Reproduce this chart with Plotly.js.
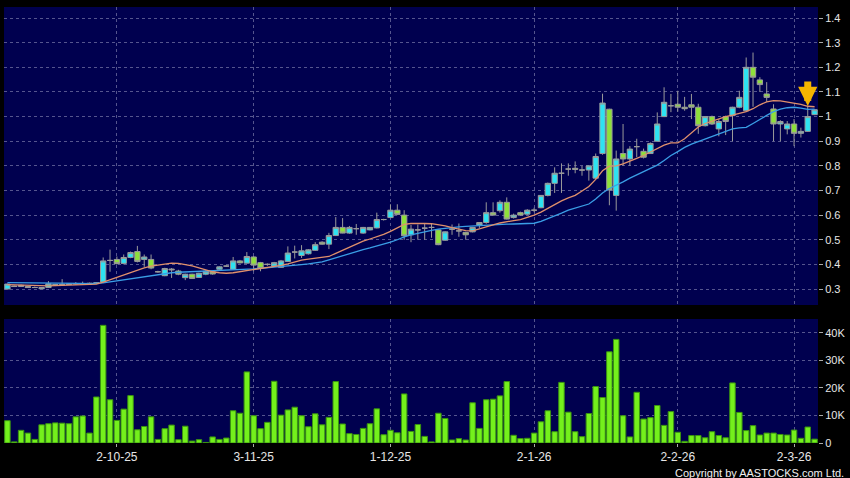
<!DOCTYPE html>
<html>
<head>
<meta charset="utf-8">
<script src="https://cdn.plot.ly/plotly-3.0.1.min.js"></script>
<style>html,body{margin:0;padding:0;background:#000;}#chart{width:850px;height:478px;}</style>
</head>
<body>
<div id="chart"></div>
<script>
const dates = ['2025-09-09','2025-09-10','2025-09-11','2025-09-12','2025-09-15','2025-09-16','2025-09-17','2025-09-18','2025-09-19','2025-09-22','2025-09-23','2025-09-24','2025-09-25','2025-09-26','2025-09-29','2025-09-30',
'2025-10-02','2025-10-03','2025-10-06','2025-10-08','2025-10-09','2025-10-10','2025-10-13','2025-10-14','2025-10-15','2025-10-16','2025-10-17','2025-10-20','2025-10-21','2025-10-22','2025-10-23','2025-10-24','2025-10-27','2025-10-28','2025-10-30','2025-10-31',
'2025-11-03','2025-11-04','2025-11-05','2025-11-06','2025-11-07','2025-11-10','2025-11-11','2025-11-12','2025-11-13','2025-11-14','2025-11-17','2025-11-18','2025-11-19','2025-11-20','2025-11-21','2025-11-24','2025-11-25','2025-11-26','2025-11-27','2025-11-28',
'2025-12-01','2025-12-02','2025-12-03','2025-12-04','2025-12-05','2025-12-08','2025-12-09','2025-12-10','2025-12-11','2025-12-12','2025-12-15','2025-12-16','2025-12-17','2025-12-18','2025-12-19','2025-12-22','2025-12-23','2025-12-24','2025-12-29','2025-12-30','2025-12-31',
'2026-01-02','2026-01-05','2026-01-06','2026-01-07','2026-01-08','2026-01-09','2026-01-12','2026-01-13','2026-01-14','2026-01-15','2026-01-16','2026-01-19','2026-01-20','2026-01-21','2026-01-22','2026-01-23','2026-01-26','2026-01-27','2026-01-28','2026-01-29','2026-01-30',
'2026-02-02','2026-02-03','2026-02-04','2026-02-05','2026-02-06','2026-02-09','2026-02-10','2026-02-11','2026-02-12','2026-02-13','2026-02-16','2026-02-20','2026-02-23','2026-02-24','2026-02-25','2026-02-26','2026-02-27',
'2026-03-02','2026-03-03','2026-03-04','2026-03-05'];

const open = [.300,.312,.310,.310,.306,.301,.306,.318,.316,.318,.320,.321,.320,.322,.328,.416,.420,.404,.428,.452,
.420,.420,.370,.354,.381,.373,.346,.360,.347,.360,.370,.380,.393,.380,.414,.405,.430,.407,.400,.393,
.388,.412,.450,.436,.443,.457,.490,.482,.517,.550,.527,.545,.527,.540,.548,.582,.590,.620,.600,.520,
.540,.547,.550,.540,.498,.543,.536,.530,.532,.560,.570,.610,.618,.652,.590,.610,.604,.620,.630,.680,
.729,.770,.787,.790,.783,.783,.750,.850,1.030,.680,.850,.828,.878,.859,.850,.900,1.000,1.044,1.050,1.038,
1.048,1.038,.963,1.000,.950,1.000,1.004,1.038,1.024,1.200,1.149,1.092,1.031,.970,.950,.970,.932,.940,1.008];
const high = [.322,.314,.318,.312,.310,.308,.332,.320,.340,.324,.328,.330,.326,.328,.428,.460,.432,.440,.452,.475,
.440,.440,.374,.386,.385,.378,.362,.362,.366,.376,.374,.392,.396,.430,.418,.450,.434,.410,.404,.410,
.418,.473,.476,.478,.462,.490,.494,.528,.592,.588,.556,.564,.552,.552,.610,.585,.644,.644,.620,.560,
.562,.564,.566,.542,.534,.562,.566,.532,.552,.572,.652,.652,.660,.672,.606,.614,.624,.630,.680,.732,
.794,.810,.810,.818,.800,.800,.850,1.093,1.032,.862,.970,.880,.910,.870,.895,1.017,1.119,1.092,1.105,1.080,
1.092,1.052,1.000,1.004,.990,1.004,1.040,1.105,1.240,1.260,1.160,1.140,1.050,.985,.982,.990,.955,1.044,1.030];
const low = [.298,.308,.308,.304,.304,.300,.305,.312,.314,.316,.318,.318,.318,.320,.326,.370,.400,.400,.425,.408,
.390,.380,.366,.352,.345,.356,.336,.342,.345,.356,.358,.378,.390,.378,.404,.404,.372,.372,.394,.390,
.386,.410,.424,.426,.440,.455,.480,.462,.515,.526,.524,.520,.524,.538,.546,.578,.588,.600,.500,.490,
.500,.500,.508,.478,.496,.520,.512,.500,.530,.548,.565,.598,.610,.582,.586,.598,.600,.612,.628,.676,
.690,.690,.760,.770,.760,.740,.745,.845,.640,.618,.800,.800,.835,.830,.848,.898,.998,1.018,1.020,1.024,
.990,.930,.960,.966,.920,.925,.900,1.034,1.020,1.040,1.100,1.060,.900,.900,.928,.880,.915,.938,1.006];
const close = [.320,.310,.315,.306,.306,.306,.321,.315,.318,.320,.322,.321,.323,.325,.414,.416,.403,.428,.448,.412,
.430,.385,.370,.383,.378,.360,.360,.343,.364,.372,.361,.390,.393,.414,.406,.432,.397,.384,.400,.407,
.414,.446,.450,.455,.459,.480,.482,.517,.550,.527,.550,.545,.550,.550,.582,.582,.620,.603,.516,.543,
.540,.547,.550,.480,.532,.543,.536,.520,.550,.570,.610,.600,.652,.584,.600,.600,.620,.620,.680,.729,
.770,.770,.787,.786,.783,.800,.838,1.055,.702,.828,.828,.868,.878,.835,.891,.970,1.058,1.044,1.038,1.032,
1.038,.963,1.000,.970,.980,.980,1.038,1.078,1.200,1.160,1.130,1.078,.970,.980,.970,.932,.940,1.000,1.028];
const volumeK = [8.1,0.4,4.6,3.6,1.3,6.6,7.0,7.3,7.2,7.0,9.5,9.8,3.6,16.7,42.7,15.7,8.2,12.3,17.2,4.8,
6.0,9.5,1.3,5.2,6.5,1.2,6.1,0.7,1.2,0.2,2.2,1.3,1.8,11.7,10.8,25.8,9.9,5.2,7.5,22.4,
10.1,12.0,13.0,9.9,5.9,10.6,6.6,9.3,22.3,6.9,3.4,3.1,5.3,7.0,12.4,3.0,4.6,3.7,17.8,4.2,
6.7,2.4,0.4,10.8,8.9,1.1,1.6,1.1,14.6,5.3,15.7,15.9,17.1,22.3,2.8,1.6,1.7,3.6,7.7,11.7,
4.1,22.0,11.2,4.1,2.3,10.7,20.5,16.5,33.1,37.6,9.9,2.2,18.4,8.7,9.2,13.6,6.4,11.4,3.9,0.6,
2.7,2.7,1.9,4.1,2.7,1.9,21.8,11.1,4.5,6.3,2.9,3.6,3.6,3.1,2.9,4.7,1.7,5.8,1.4];
const ma10 = [.318,.317,.316,.315,.314,.313,.313,.314,.315,.316,.317,.318,.319,.320,.328,.338,.348,.356,.366,.376,
.386,.393,.398,.402,.405,.404,.400,.394,.386,.378,.370,.366,.364,.366,.370,.374,.378,.383,.388,.392,
.396,.402,.410,.417,.421,.424,.426,.432,.445,.458,.470,.482,.494,.503,.512,.522,.534,.548,.562,.566,
.567,.566,.565,.562,.556,.549,.543,.537,.536,.543,.552,.560,.568,.574,.578,.582,.590,.600,.612,.628,
.645,.658,.670,.680,.698,.716,.745,.780,.799,.800,.808,.818,.830,.842,.855,.868,.884,.893,.893,.910,
.935,.958,.972,.982,.992,1.000,1.006,1.012,1.020,1.032,1.048,1.060,1.065,1.064,1.060,1.056,1.050,1.042,1.040];
const ma20 = [.326,.326,.325,.325,.325,.324,.324,.324,.324,.323,.323,.323,.322,.322,.325,.329,.333,.337,.342,.347,
.352,.356,.360,.364,.366,.368,.369,.370,.371,.372,.373,.374,.375,.377,.378,.380,.382,.384,.386,.388,
.390,.393,.396,.399,.402,.405,.410,.418,.427,.436,.444,.452,.460,.467,.474,.481,.490,.500,.512,.520,
.527,.533,.538,.543,.547,.550,.552,.554,.556,.558,.560,.561,.562,.563,.564,.565,.566,.567,.575,.585,
.597,.608,.620,.628,.636,.645,.665,.690,.708,.720,.735,.750,.763,.776,.790,.803,.822,.842,.858,.875,
.888,.898,.908,.918,.928,.938,.950,.954,.956,.972,.990,1.005,1.020,1.030,1.036,1.038,1.034,1.029,1.030];
const tickDates = ['2025-10-02','2025-11-03','2025-12-01','2026-01-02','2026-02-02','2026-03-02'];
const tickLabels = ['2-10-25','3-11-25','1-12-25','2-1-26','2-2-26','2-3-26'];
const priceTicks = [0.3,0.4,0.5,0.6,0.7,0.8,0.9,1.0,1.1,1.2,1.3,1.4];
const priceTickText = ['0.3','0.4','0.5','0.6','0.7','0.8','0.9','1','1.1','1.2','1.3','1.4'];
const volTicks = [0,10000,20000,30000,40000];
const volTickText = ['0','10K','20K','30K','40K'];
const arrowDate = '2026-03-04';
const arrowPrice = 1.043;

const volume = volumeK.map(v => v * 1000);
const gridCol = '#55558e';
const labelFont = {family: 'Liberation Sans, Arial, sans-serif', size: 11, color: '#e6e6e6'};

const traces = [
  {type: 'bar', x: dates, y: volume, xaxis: 'x', yaxis: 'y2',
   marker: {color: '#74f01c', line: {color: '#3a9410', width: 1}}, width: 0.8, hoverinfo: 'skip'},
  {type: 'scatter', mode: 'lines', x: dates, y: ma20, xaxis: 'x', yaxis: 'y',
   line: {color: '#3a9ee6', width: 1.3}, hoverinfo: 'skip'},
  {type: 'scatter', mode: 'lines', x: dates, y: ma10, xaxis: 'x', yaxis: 'y',
   line: {color: '#e0906c', width: 1.3}, hoverinfo: 'skip'},
  {type: 'candlestick', x: dates, open: open, high: high, low: low, close: close, xaxis: 'x', yaxis: 'y',
   increasing: {line: {color: '#9a9a9a', width: 1}, fillcolor: '#2ee2f2'},
   decreasing: {line: {color: '#9a9a9a', width: 1}, fillcolor: '#8ee03a'},
   whiskerwidth: 0, hoverinfo: 'skip'}
];

const layout = {
  width: 850, height: 478,
  margin: {l: 4, r: 32, t: 7, b: 35, pad: 0},
  paper_bgcolor: '#000000', plot_bgcolor: '#00004f',
  showlegend: false,
  boxgap: 0.22,
  boxgroupgap: 0,
  xaxis: {type: 'category', anchor: 'y2', range: [-0.5, dates.length - 0.5],
    tickmode: 'array', tickvals: tickDates, ticktext: tickLabels,
    showgrid: true, gridcolor: gridCol, griddash: '3px,3px', gridwidth: 1,
    ticks: 'outside', ticklen: 3, tickcolor: '#aaaaaa', tickwidth: 1,
    tickfont: {family: 'Liberation Sans, Arial, sans-serif', size: 12, color: '#e6e6e6'},
    showline: false, zeroline: false, fixedrange: true,
    rangeslider: {visible: false}},
  yaxis: {domain: [0.3165, 1], range: [0.235, 1.445], side: 'right', anchor: 'x',
    tickmode: 'array', tickvals: priceTicks, ticktext: priceTickText,
    showgrid: true, gridcolor: gridCol, griddash: '3px,3px', gridwidth: 1,
    ticks: 'outside', ticklen: 4, tickcolor: '#aaaaaa',
    tickfont: labelFont, zeroline: false, showline: false},
  yaxis2: {domain: [0, 0.2844], range: [0, 45000], side: 'right', anchor: 'x',
    tickmode: 'array', tickvals: volTicks, ticktext: volTickText,
    showgrid: true, gridcolor: gridCol, griddash: '3px,3px', gridwidth: 1,
    ticks: 'outside', ticklen: 4, tickcolor: '#aaaaaa',
    tickfont: labelFont, zeroline: false, showline: false},
  annotations: [
    {xref: 'paper', yref: 'paper', x: 1.0344, y: -0.068, xanchor: 'right', yanchor: 'middle',
     text: 'Copyright by AASTOCKS.com Ltd.', showarrow: false,
     font: {family: 'Liberation Sans, Arial, sans-serif', size: 11, color: '#f0f0f0'}},
    {xref: 'x', yref: 'y', x: arrowDate, y: arrowPrice, ax: 0, ay: -26, axref: 'pixel', ayref: 'pixel',
     text: '', showarrow: true, arrowhead: 2, arrowsize: 0.55, arrowwidth: 7, arrowcolor: '#f5b400', standoff: 0}
  ]
};

Plotly.newPlot('chart', traces, layout, {displayModeBar: false, staticPlot: true});
</script>
</body>
</html>
